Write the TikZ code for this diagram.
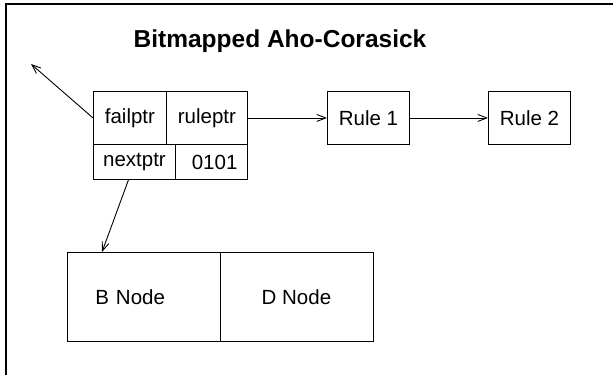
\documentclass[tikz,border=0pt]{standalone}
\usepackage{fontspec}
\setmainfont{Liberation Sans}
\usetikzlibrary{arrows.meta,calc}
\begin{document}
\begin{tikzpicture}[x=1pt,y=-1pt,
  cell/.style={draw,line width=0.9pt,inner sep=0pt,anchor=north west,font=\fontsize{20.5}{24}\selectfont},
  link/.style={line width=0.9pt,-{Straight Barb[length=9pt,width=7pt,line width=0.9pt]}},
  frame/.style={line width=2pt}]
\useasboundingbox (0,0) rectangle (613,375);
\draw[frame] (6,375) -- (6,4) -- (613,4);
\node[font=\bfseries\fontsize{24.5}{28}\selectfont,anchor=base] (title) at (280,47) {Bitmapped Aho-Corasick};
% node record
\node[cell,minimum width=73pt,minimum height=53pt] (fail) at (93,91) {failptr};
\node[cell,minimum width=81pt,minimum height=53pt] (rule) at (166,91) {ruleptr};
\node[cell,minimum width=82pt,minimum height=35pt] (next) at (93,144) {nextptr};
\node[cell,minimum width=72pt,minimum height=35pt,inner xsep=10pt,text width=52pt,align=right] (bits) at (175,144) {0101};
% rules
\node[cell,minimum width=82pt,minimum height=53pt] (r1) at (327,91) {Rule 1};
\node[cell,minimum width=82pt,minimum height=53pt] (r2) at (488,91) {Rule 2};
% children
\node[cell,minimum width=153pt,minimum height=89pt,inner xsep=28pt,text width=97pt,align=left] (bnode) at (67,252) {B Node};
\node[cell,minimum width=153pt,minimum height=89pt] (dnode) at (219.5,252) {D Node};
% connectors
\coordinate (failto) at (31,64);
\draw[link] (fail.west) -- (failto);
\draw[link] (rule.east) -- (r1.west);
\draw[link] (r1.east) -- (r2.west);
\draw[link] ($(next.south)+(-6,0)$) -- ($(bnode.north west)+(35,0)$);
\end{tikzpicture}
\end{document}
